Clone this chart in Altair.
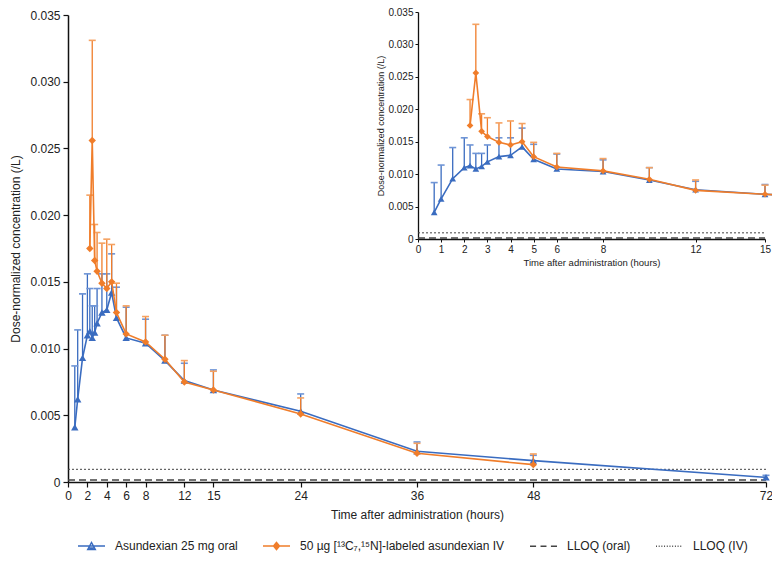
import altair as alt
import pandas as pd

# ---------------- data ----------------
series_names = [
    "Asundexian 25 mg oral",
    "50 µg [¹³C₇,¹⁵N]-labeled asundexian IV",
    "LLOQ (oral)",
    "LLOQ (IV)",
]

# Asundexian 25 mg oral: time (h), mean, mean + SD
t_oral = [0.7, 1, 1.5, 2, 2.25, 2.5, 2.75, 3, 3.5, 4, 4.5, 5, 6, 8, 10, 12, 15, 24, 36, 48, 72]
c_oral = [0.0041, 0.0062, 0.0093, 0.0110, 0.0113, 0.0108, 0.0112, 0.0119, 0.0127, 0.0129,
          0.0142, 0.0123, 0.0108, 0.0104, 0.0091, 0.0076, 0.0069, 0.0053, 0.0023, 0.0016, 0.00035]
u_oral = [0.0087, 0.0114, 0.0141, 0.0156, 0.0145, 0.0132, 0.0132, 0.0145, 0.0156, 0.0156,
          0.0171, 0.0146, 0.0131, 0.0122, 0.0110, 0.0089, 0.0084, 0.0066, 0.0030, 0.0020, 0.0005]

# 50 µg labeled asundexian IV: time (h), mean, mean + SD
t_iv = [2.25, 2.5, 2.75, 3, 3.5, 4, 4.5, 5, 6, 8, 10, 12, 15, 24, 36, 48]
c_iv = [0.0175, 0.0256, 0.0166, 0.0158, 0.0149, 0.0145, 0.0150, 0.0127, 0.0111, 0.0105,
        0.0092, 0.0075, 0.0069, 0.0051, 0.00215, 0.0013]
u_iv = [0.0215, 0.0331, 0.0193, 0.0187, 0.0179, 0.0182, 0.0178, 0.0149, 0.0132, 0.0124,
        0.0110, 0.0091, 0.0083, 0.0063, 0.0029, 0.0021]

lloq_oral = 0.00015
lloq_iv = 0.00095

main_x_ticks = [0, 2, 4, 6, 8, 12, 15, 24, 36, 48, 72]
inset_x_ticks = [0, 1, 2, 3, 4, 5, 6, 8, 12, 15]
y_ticks = [0, 0.005, 0.010, 0.015, 0.020, 0.025, 0.030, 0.035]

# ---------------- styling ----------------
BLUE = "#3a6cc0"
BLUE_CAP = "#6f95d6"
ORANGE = "#f07d2a"
ORANGE_CAP = "#f5a262"
GREY = "#444444"
FONT = "Liberation Sans"

oral = pd.DataFrame({"t": t_oral, "c": c_oral, "u": u_oral})
iv = pd.DataFrame({"t": t_iv, "c": c_iv, "u": u_iv})

# legend symbols (line + marker), unit box [-1, 1]
dots = "".join(f"M{-1 + i * 0.2:.2f},0H{-1 + i * 0.2 + 0.07:.2f}" for i in range(10))
legend_paths = [
    "M-1,0H1M-0.28,0.26L0,-0.26L0.28,0.26ZM-0.17,0.15H0.17",
    "M-1,0H1M0,-0.26L0.22,0L0,0.26L-0.22,0ZM-0.1,-0.1H0.1M-0.1,0.1H0.1",
    "M-1,0H-0.55M-0.22,0H0.22M0.55,0H1",
    dots,
]
legend_colors = [BLUE, ORANGE, GREY, GREY]

ylab = "datum.value == 0 ? '0' : format(datum.value, '.3f')"
y_title = "Dose-normalized concentration (/L)"
x_title = "Time after administration (hours)"


def panel(xs, ys, xax, yax, xmax, msize):
    lloq = pd.DataFrame({"y": [lloq_oral, lloq_iv], "x0": [0, 0], "x1": [xmax, xmax]})
    X = lambda f: alt.X(f"{f}:Q", scale=xs, axis=xax)
    Y = lambda f: alt.Y(f"{f}:Q", scale=ys, axis=yax)
    layers = []
    layers.append(
        alt.Chart(lloq.iloc[[0]]).mark_rule(color=GREY, strokeWidth=1.4, strokeDash=[7, 4])
        .encode(x=X("x0"), x2="x1", y=Y("y"))
    )
    layers.append(
        alt.Chart(lloq.iloc[[1]]).mark_rule(color=GREY, strokeWidth=1, strokeDash=[2, 2])
        .encode(x=X("x0"), x2="x1", y=Y("y"))
    )
    for df, col, cap, shape in [(oral, BLUE, BLUE_CAP, "triangle-up"), (iv, ORANGE, ORANGE_CAP, "diamond")]:
        base = alt.Chart(df)
        layers.append(base.mark_rule(color=col, strokeWidth=1.3).encode(x=X("t"), y=Y("c"), y2="u"))
        layers.append(
            base.mark_tick(color=cap, orient="horizontal", size=7, thickness=1.6, opacity=1)
            .encode(x=X("t"), y=Y("u"))
        )
        layers.append(base.mark_line(color=col, strokeWidth=1.6).encode(x=X("t"), y=Y("c")))
        layers.append(
            base.mark_point(shape=shape, filled=True, color=col, size=msize, opacity=1)
            .encode(x=X("t"), y=Y("c"))
        )
    return layers


# main panel
mx = alt.Scale(domain=[0, 72], nice=False, zero=False)
my = alt.Scale(domain=[0, 0.035], nice=False, zero=False)
main_xax = alt.Axis(values=main_x_ticks, title=x_title, orient="bottom", labelFontSize=12,
                    titleFontSize=12, tickSize=5, labelPadding=3, titlePadding=8,
                    domainWidth=1.5, tickWidth=1.2, labelOverlap=False, labelFlush=False)
main_yax = alt.Axis(values=y_ticks, labelExpr=ylab, title=y_title, orient="left", labelFontSize=12,
                    titleFontSize=12, tickSize=5, labelPadding=3, titlePadding=7,
                    domainWidth=1.5, tickWidth=1.2, labelOverlap=False)
main_layers = panel(mx, my, main_xax, main_yax, 72, 55)

# legend-only layer (rows carry no position, so nothing is drawn)
leg_df = pd.DataFrame({"series": series_names, "t": [None] * 4, "c": [None] * 4})
leg_def = dict(title=None, orient="none", legendX=9, legendY=516, direction="horizontal",
               columns=4, symbolSize=729, symbolStrokeWidth=1.5, labelFontSize=12,
               labelOffset=9, columnPadding=22, labelLimit=400, padding=0)
legend_layer = alt.Chart(leg_df).mark_point(filled=False, strokeWidth=1.5, opacity=1).encode(
    x=alt.X("t:Q", scale=mx, axis=main_xax),
    y=alt.Y("c:Q", scale=my, axis=main_yax),
    color=alt.Color("series:N", scale=alt.Scale(domain=series_names, range=legend_colors),
                    legend=alt.Legend(**leg_def)),
    shape=alt.Shape("series:N", scale=alt.Scale(domain=series_names, range=legend_paths),
                    legend=alt.Legend(**leg_def)),
)
main_layers.append(legend_layer)
main = alt.layer(*main_layers)

# inset panel (0-15 h)
ix = alt.Scale(domain=[0, 15], range=[350, 697], nice=False, zero=False)
iy = alt.Scale(domain=[0, 0.035], range=[224, -3], nice=False, zero=False)
in_xax = alt.Axis(values=inset_x_ticks, title=x_title, orient="bottom", offset=-243, labelFontSize=10,
                  titleFontSize=9.5, tickSize=3, labelPadding=2, titlePadding=3,
                  domainWidth=1.3, tickWidth=1, labelOverlap=False, labelFlush=False)
in_yax = alt.Axis(values=y_ticks, labelExpr=ylab, title=y_title, orient="left", offset=-350,
                  labelFontSize=10, titleFontSize=9, tickSize=3, labelPadding=2, titlePadding=2,
                  domainWidth=1.3, tickWidth=1, labelOverlap=False)
inset = alt.layer(*panel(ix, iy, in_xax, in_yax, 15, 45))

chart = (
    alt.layer(main, inset)
    .resolve_scale(x="independent", y="independent")
    .properties(width=698, height=467, autosize=alt.AutoSizeParams(type="none"),
                padding={"left": 60, "top": 7, "right": 6, "bottom": 72})
    .configure(font=FONT)
    .configure_view(stroke=None)
    .configure_axis(labelColor="#222222", titleColor="#222222", domainColor="#111111",
                    tickColor="#111111", titleFontWeight="normal", grid=False)
    .configure_legend(labelColor="#222222")
)

chart.save("out.html", embed_options={"renderer": "svg", "actions": False})
